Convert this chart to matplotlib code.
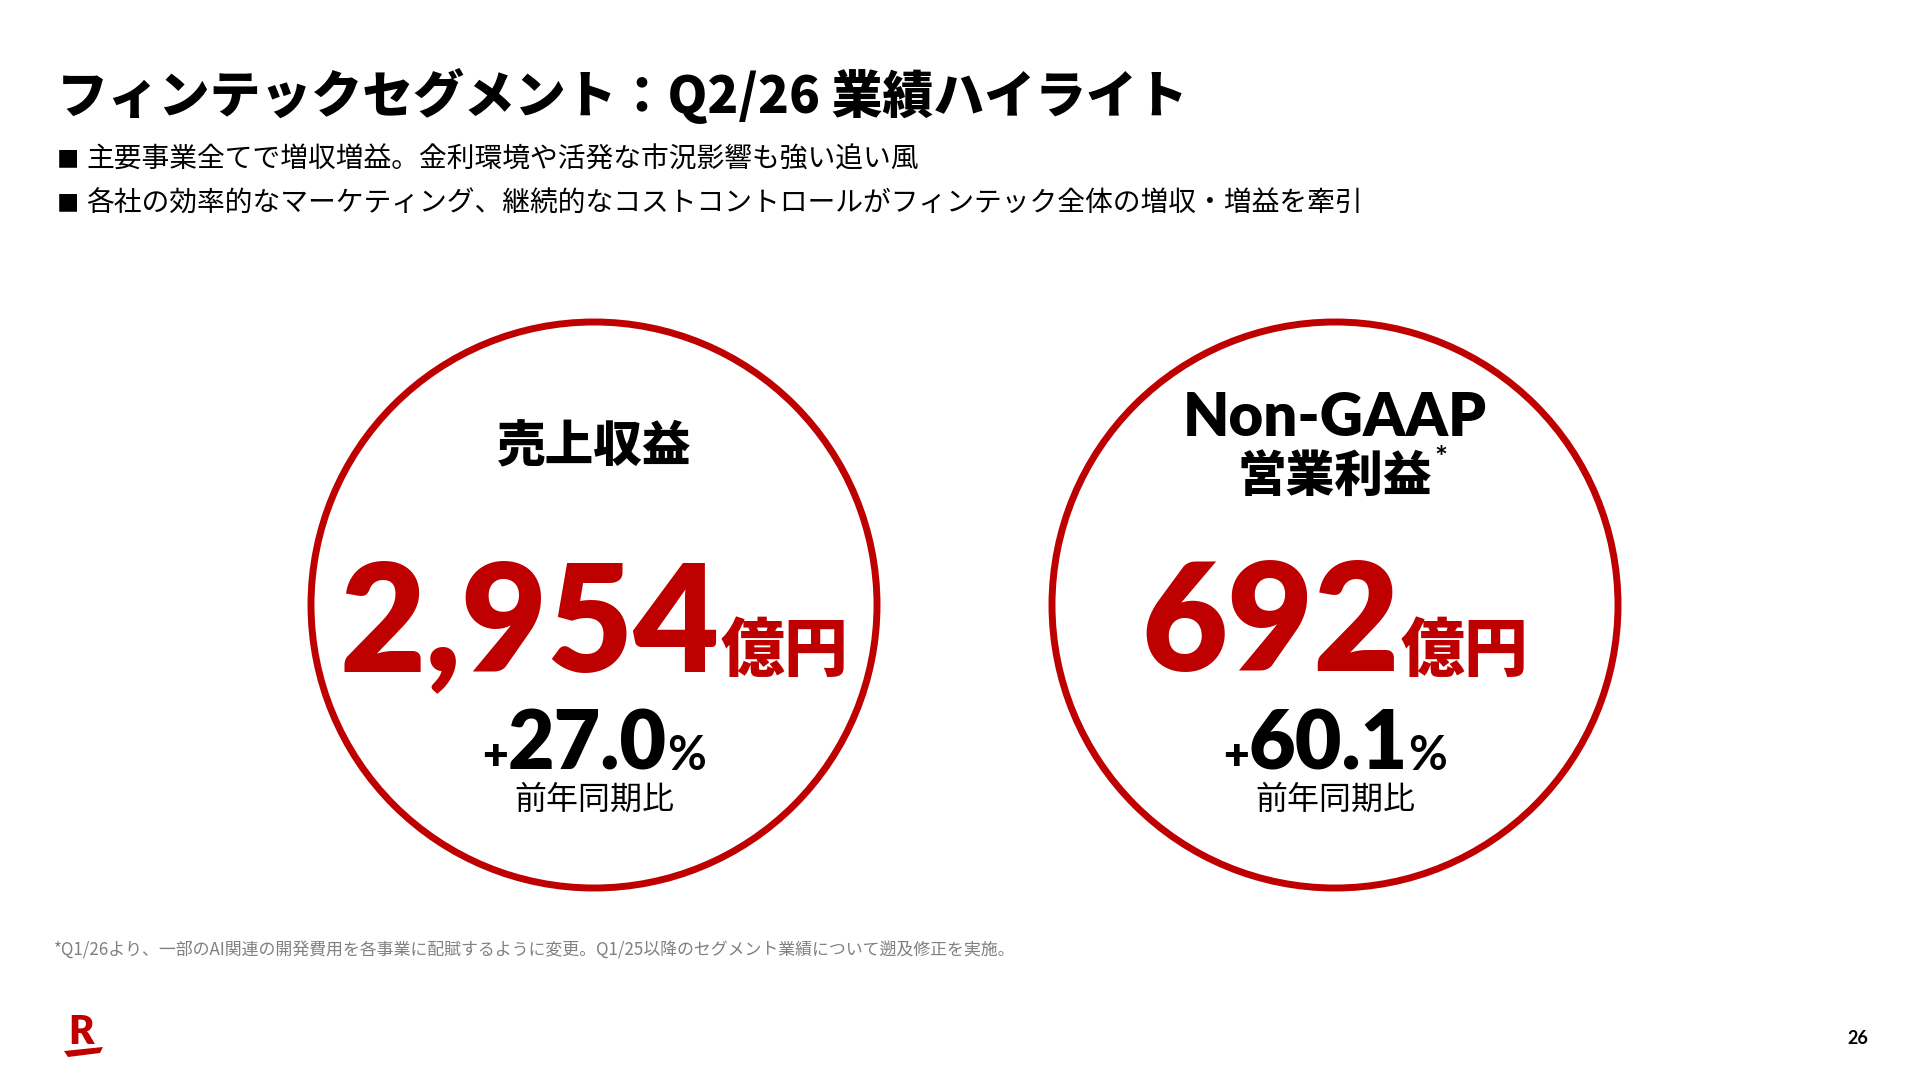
import matplotlib.pyplot as plt
from matplotlib.patches import Circle, Polygon

plt.rcParams['font.family'] = ['Noto Sans CJK JP', 'DejaVu Sans']

RED = '#BF0000'
GREY = '#808080'

# slide text and values
title = 'フィンテックセグメント：Q2/26 業績ハイライト'
bullets = ['主要事業全てで増収増益。金利環境や活発な市況影響も強い追い風',
           '各社の効率的なマーケティング、継続的なコストコントロールがフィンテック全体の増収・増益を牽引']
kpi_labels = ['売上収益', 'Non-GAAP']
kpi_sublabels = ['', '営業利益']
kpi_values = ['2,954', '692']
kpi_unit = '億円'
kpi_growth = [27.0, 60.1]
growth_caption = '前年同期比'
footnote = '*Q1/26より、一部のAI関連の開発費用を各事業に配賦するように変更。Q1/25以降のセグメント業績について遡及修正を実施。'
page_no = '26'

LATIN = ['Lato', 'DejaVu Sans']

fig = plt.figure(figsize=(19.2, 10.8), dpi=100)
ax = fig.add_axes([0, 0, 1, 1])
ax.set_xlim(0, 1920)
ax.set_ylim(1080, 0)
ax.axis('off')
renderer = fig.canvas.get_renderer()


def row(cx, y, parts):
    # put several text pieces on one baseline, centred on cx
    objs = []
    for s, kw in parts:
        objs.append(ax.text(0, y, s, va='baseline', ha='left', **kw))
    widths = [t.get_window_extent(renderer).width for t in objs]
    x = cx - sum(widths) / 2
    for t, w in zip(objs, widths):
        t.set_x(x)
        x += w
    return objs


# header
ax.text(57, 96, title, fontsize=36.6, fontweight='heavy', va='center', ha='left')
for i, b in enumerate(bullets):
    y = 160 + 44 * i
    ax.text(57, y, '■', fontsize=16, va='center', ha='left')
    ax.text(86, y, b, fontsize=20, va='center', ha='left')

# the two KPI circles
centers = [594, 1335]
cy = 605
for i, cx in enumerate(centers):
    ax.add_patch(Circle((cx, cy), 283, fill=False, ec=RED, lw=5))

    if kpi_sublabels[i]:
        ax.text(cx, 418, kpi_labels[i], fontsize=43, fontweight='heavy',
                family=LATIN, ha='center', va='center')
        t = ax.text(cx, 477, kpi_sublabels[i], fontsize=35, fontweight='heavy',
                    ha='center', va='center')
        bb = t.get_window_extent(renderer)
        ax.text(bb.x1 + 2, 459, '*', fontsize=22, fontweight='bold',
                family=LATIN, ha='left', va='center')
    else:
        ax.text(cx, 447, kpi_labels[i], fontsize=35, fontweight='heavy',
                ha='center', va='center')

    row(cx, 671, [(kpi_values[i], dict(fontsize=107, fontweight='heavy', color=RED,
                                       family=LATIN)),
                  (kpi_unit, dict(fontsize=46, fontweight='heavy', color=RED))])

    row(cx, 770, [('+', dict(fontsize=32, fontweight='heavy', family=LATIN)),
                  (f'{kpi_growth[i]:.1f}', dict(fontsize=58, fontweight='heavy',
                                                family=LATIN)),
                  ('%', dict(fontsize=34, fontweight='bold', family=LATIN))])

    ax.text(cx, 800, growth_caption, fontsize=23, ha='center', va='center')

# footer
ax.text(54, 950, footnote, fontsize=12.2, color=GREY, ha='left', va='center')
ax.text(81, 1033, 'R', fontsize=28, fontweight='heavy', color=RED,
        family=LATIN, ha='center', va='center')
ax.add_patch(Polygon([(64, 1051), (103, 1047), (100, 1053), (68, 1057)],
                     closed=True, fc=RED, ec='none'))
ax.text(1858, 1038, page_no, fontsize=13, fontweight='bold',
        family=LATIN, ha='center', va='center')

fig.savefig('out.png', dpi=100, facecolor='white')
